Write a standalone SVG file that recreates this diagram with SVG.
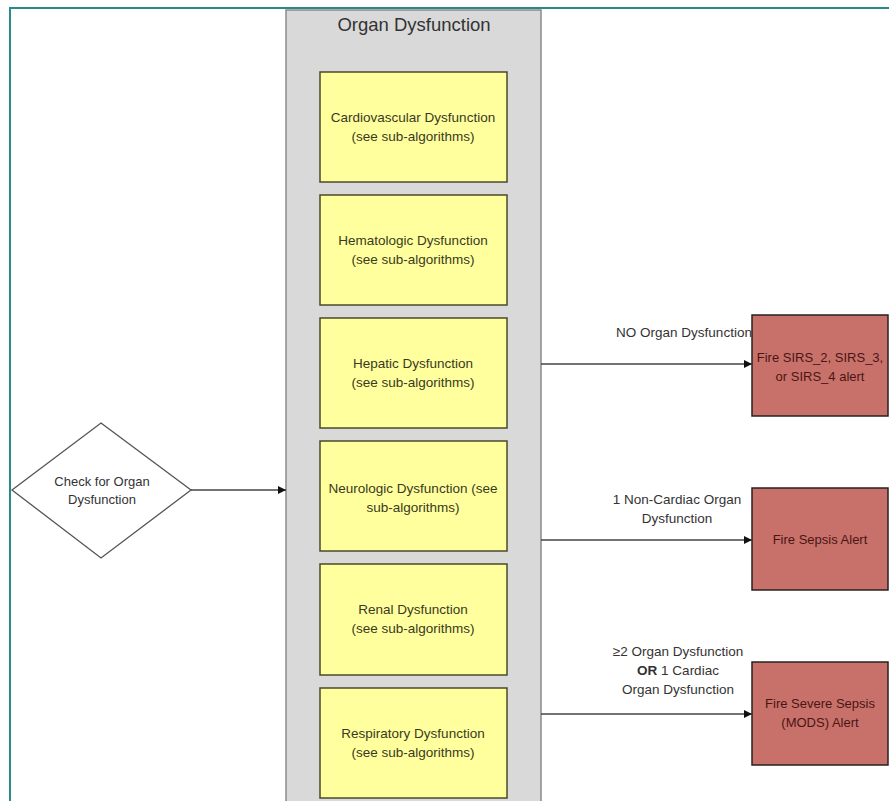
<svg xmlns="http://www.w3.org/2000/svg" width="889" height="801" viewBox="0 0 889 801">
<defs>
<marker id="arr" viewBox="0 0 10 10" refX="10" refY="5" markerWidth="8" markerHeight="8" markerUnits="userSpaceOnUse" orient="auto">
<path d="M0,0 L10,5 L0,10 z" fill="#111"/>
</marker>
</defs>
<style>
text{font-family:"Liberation Sans",Arial,sans-serif;text-anchor:middle;}
.y rect{fill:#ffff9e;stroke:#4a4a2a;stroke-width:1.5;}
.y text{font-size:13.5px;fill:#3a3a20;}
.r rect{fill:#c8716a;stroke:#2a2020;stroke-width:1.5;}
.r text{font-size:13px;fill:#4a1515;}
.lbl{font-size:13.5px;fill:#333;}
.c line{stroke:#444;stroke-width:1.3;}
</style>
<rect x="0" y="0" width="889" height="801" fill="#fff"/>
<path d="M889,8 H10 V801" fill="none" stroke="#2a8a8a" stroke-width="2"/>
<g id="organ-dysfunction">
<rect x="286" y="10" width="255" height="800" fill="#d9d9d9" stroke="#8a8a8a" stroke-width="1.5"/>
<text x="414" y="31" font-size="18.5" fill="#333">Organ Dysfunction</text>
</g>
<g id="cardio" class="y"><rect x="320" y="72" width="187" height="110"/><text x="413" y="122">Cardiovascular Dysfunction</text><text x="413" y="141">(see sub-algorithms)</text></g>
<g id="hema" class="y"><rect x="320" y="195" width="187" height="110"/><text x="413" y="245">Hematologic Dysfunction</text><text x="413" y="264">(see sub-algorithms)</text></g>
<g id="hepatic" class="y"><rect x="320" y="318" width="187" height="110"/><text x="413" y="368">Hepatic Dysfunction</text><text x="413" y="387">(see sub-algorithms)</text></g>
<g id="neuro" class="y"><rect x="320" y="441" width="187" height="110"/><text x="413" y="493">Neurologic Dysfunction (see</text><text x="413" y="512">sub-algorithms)</text></g>
<g id="renal" class="y"><rect x="320" y="564" width="187" height="111"/><text x="413" y="614">Renal Dysfunction</text><text x="413" y="633">(see sub-algorithms)</text></g>
<g id="resp" class="y"><rect x="320" y="688" width="187" height="110"/><text x="413" y="738">Respiratory Dysfunction</text><text x="413" y="757">(see sub-algorithms)</text></g>
<g id="check">
<polygon points="101,423 191,490 101,558 12,490" fill="#fff" stroke="#555" stroke-width="1.3"/>
<text x="102" y="486" font-size="13" fill="#333">Check for Organ</text>
<text x="102" y="504" font-size="13" fill="#333">Dysfunction</text>
</g>
<g id="sirs" class="r"><rect x="752" y="315" width="136" height="101"/><text x="820" y="362">Fire SIRS_2, SIRS_3,</text><text x="820" y="381">or SIRS_4  alert</text></g>
<g id="sepsis" class="r"><rect x="752" y="488" width="136" height="102"/><text x="820" y="544">Fire Sepsis Alert</text></g>
<g id="severe" class="r"><rect x="752" y="662" width="136" height="103"/><text x="820" y="708">Fire Severe Sepsis</text><text x="820" y="727">(MODS) Alert</text></g>
<g id="connectors" class="c">
<line x1="191" y1="490" x2="286" y2="490" marker-end="url(#arr)"/>
<line x1="541" y1="364" x2="752" y2="364" marker-end="url(#arr)"/>
<line x1="541" y1="540" x2="752" y2="540" marker-end="url(#arr)"/>
<line x1="541" y1="714" x2="752" y2="714" marker-end="url(#arr)"/>
<text class="lbl" x="684" y="337">NO Organ Dysfunction</text>
<text class="lbl" x="677" y="504">1 Non-Cardiac Organ</text>
<text class="lbl" x="677" y="523">Dysfunction</text>
<text class="lbl" x="678" y="656">≥2  Organ Dysfunction</text>
<text class="lbl" x="678" y="675"><tspan font-weight="bold">OR</tspan> 1 Cardiac</text>
<text class="lbl" x="678" y="694">Organ Dysfunction</text>
</g>
</svg>
